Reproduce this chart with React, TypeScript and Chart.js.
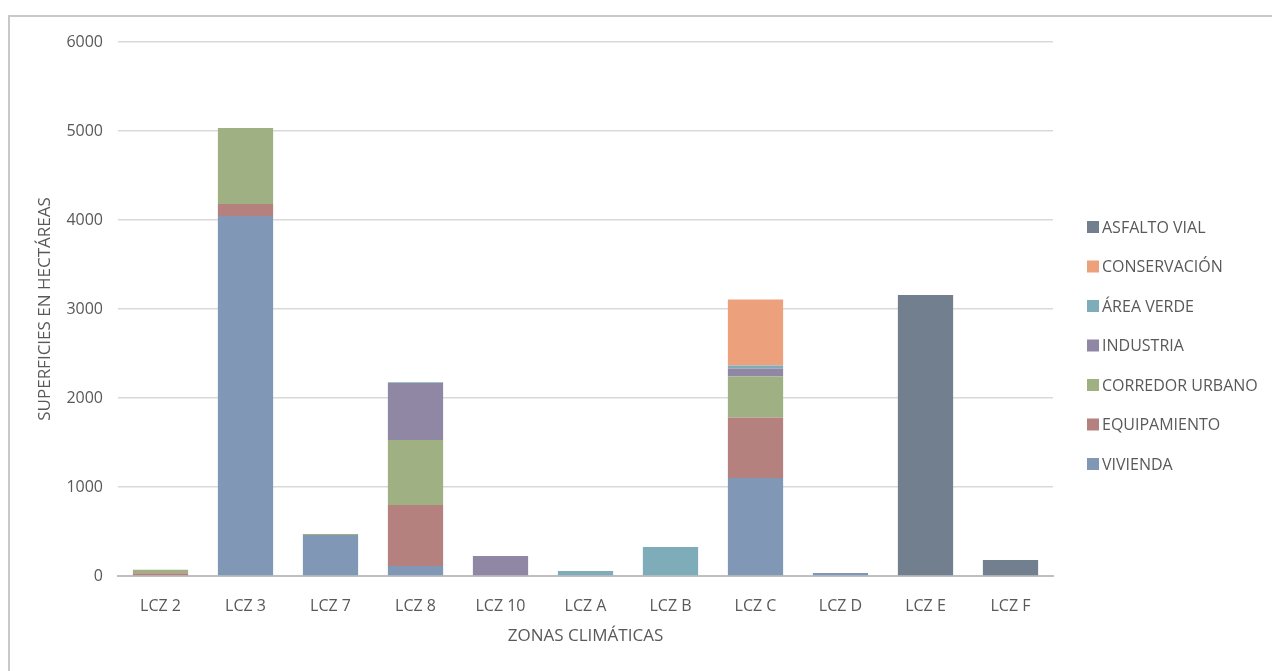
import React, { useEffect, useRef } from "react";
import { Chart, registerables } from "chart.js";

Chart.register(...registerables);

const categories = ["LCZ 2", "LCZ 3", "LCZ 7", "LCZ 8", "LCZ 10", "LCZ A", "LCZ B", "LCZ C", "LCZ D", "LCZ E", "LCZ F"];
const vivienda = [0, 4045, 460, 112, 0, 0, 0, 1101, 35, 0, 0];
const equipamiento = [30, 135, 0, 686, 0, 0, 0, 680, 0, 0, 0];
const corredorUrbano = [40, 855, 12, 730, 0, 0, 0, 460, 0, 0, 0];
const industria = [0, 0, 0, 640, 225, 0, 0, 90, 0, 0, 0];
const areaVerde = [0, 0, 0, 10, 0, 56, 326, 34, 0, 0, 0];
const conservacion = [0, 0, 0, 0, 0, 0, 0, 741, 0, 0, 0];
const asfaltoVial = [0, 0, 0, 0, 0, 0, 0, 0, 0, 3157, 180];
const yTicks = [0, 1000, 2000, 3000, 4000, 5000, 6000];

const FONT = "'Open Sans', 'Noto Sans', sans-serif";
const TEXT = "#595959";

const sideLegend = {
  id: "sideLegend",
  afterDraw(chart: any) {
    const ctx = chart.ctx;
    const items = chart.data.datasets.map((d: any) => ({ label: d.label, color: d.backgroundColor })).reverse();
    const boxX = chart.chartArea.right + 34;
    const textX = boxX + 15;
    const y0 = 210;
    const step = 39.5;
    ctx.save();
    ctx.font = `16px ${FONT}`;
    ctx.textBaseline = "middle";
    ctx.textAlign = "left";
    items.forEach((it: any, i: number) => {
      const cy = y0 + i * step;
      ctx.fillStyle = it.color;
      ctx.fillRect(boxX, cy - 6, 12, 12);
      ctx.fillStyle = TEXT;
      ctx.fillText(it.label, textX, cy + 1);
    });
    ctx.restore();
  },
};

export default function App() {
  const ref = useRef<HTMLCanvasElement | null>(null);
  useEffect(() => {
    if (!ref.current) return;
    const ds = (label: string, data: number[], color: string) => ({
      label,
      data,
      backgroundColor: color,
      borderWidth: 0,
      barPercentage: 0.65,
      categoryPercentage: 1,
    });
    const chart = new Chart(ref.current, {
      type: "bar",
      plugins: [sideLegend],
      data: {
        labels: categories,
        datasets: [
          ds("VIVIENDA", vivienda, "#8097b5"),
          ds("EQUIPAMIENTO", equipamiento, "#b4817f"),
          ds("CORREDOR URBANO", corredorUrbano, "#9fb182"),
          ds("INDUSTRIA", industria, "#8f87a3"),
          ds("ÁREA VERDE", areaVerde, "#7eadb9"),
          ds("CONSERVACIÓN", conservacion, "#eda07c"),
          ds("ASFALTO VIAL", asfaltoVial, "#717f8f"),
        ],
      },
      options: {
        animation: false,
        responsive: false,
        maintainAspectRatio: false,
        layout: { padding: { top: 25, right: 219, bottom: 0, left: 0 } },
        plugins: {
          tooltip: { enabled: false },
          legend: { display: false },
        },
        scales: {
          x: {
            stacked: true,
            afterFit: (scale: any) => {
              scale.height = 95;
            },
            grid: { display: false },
            border: { color: "#bfbfbf", width: 2 },
            ticks: { color: TEXT, font: { family: FONT, size: 16 }, padding: 13, maxRotation: 0 },
            title: {
              display: true,
              text: "ZONAS CLIMÁTICAS",
              color: TEXT,
              font: { family: FONT, size: 17 },
              padding: { top: 0, bottom: 25 },
            },
          },
          y: {
            stacked: true,
            min: 0,
            max: 6000,
            afterFit: (scale: any) => {
              scale.width = 108;
            },
            afterBuildTicks: (scale: any) => {
              scale.ticks = yTicks.map((v) => ({ value: v }));
            },
            grid: { color: "#d9d9d9", lineWidth: 1.5, drawTicks: false },
            border: { display: false },
            ticks: {
              color: TEXT,
              font: { family: FONT, size: 16 },
              padding: 15,
              callback: (v: any) => String(v),
            },
            title: {
              display: true,
              text: "SUPERFICIES EN HECTÁREAS",
              color: TEXT,
              font: { family: FONT, size: 17 },
              padding: { top: 25, bottom: 0 },
            },
          },
        },
      },
    });
    return () => chart.destroy();
  }, []);
  return (
    <div
      style={{
        position: "absolute",
        left: 8,
        top: 15,
        width: 1264,
        height: 656,
        boxSizing: "border-box",
        borderLeft: "2px solid #c8c8c8",
        borderTop: "2px solid #c8c8c8",
        background: "#fff",
      }}
    >
      <canvas ref={ref} width={1262} height={654} style={{ display: "block" }} />
    </div>
  );
}
